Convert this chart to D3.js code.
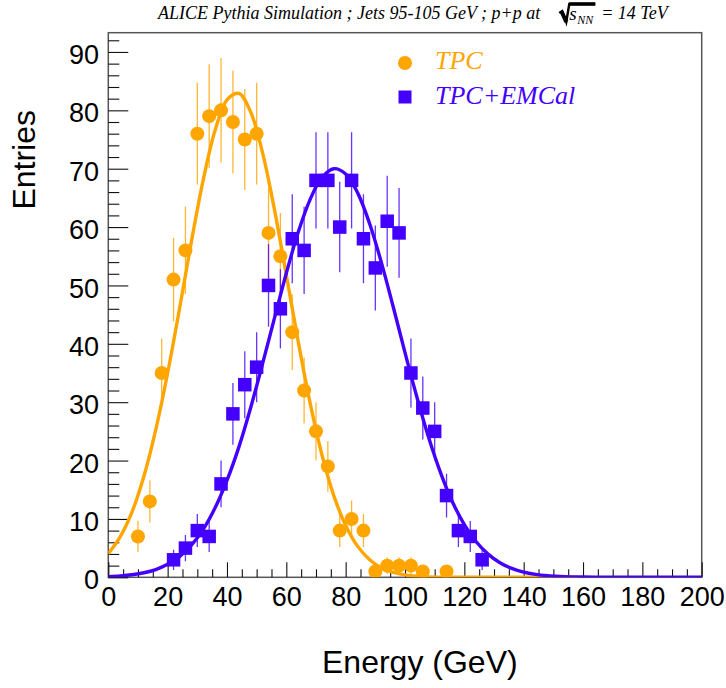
<!DOCTYPE html>
<html>
<head>
<meta charset="utf-8">
<script src="https://cdn.jsdelivr.net/npm/d3@7/dist/d3.min.js"></script>
<style>
  html, body { margin: 0; padding: 0; background: #fff; }
  svg { display: block; }
</style>
</head>
<body>
<svg id="chart" width="726" height="688"></svg>
<script>
// ---------------- data ----------------
const binCenters = [2, 6, 10, 14, 18, 22, 26, 30, 34, 38, 42, 46, 50, 54, 58, 62, 66, 70, 74, 78, 82, 86, 90, 94, 98, 102, 106, 110, 114, 118, 122, 126];
const tpcValues   = [0, 0, 7, 13, 35, 51, 56, 76, 79, 80, 78, 75, 76, 59, 55, 42, 32, 25, 19, 8, 10, 8, 1, 2, 2, 2, 1, 0, 1, 0, 0, 0];
const emcalValues = [0, 0, 0, 0, 0, 3, 5, 8, 7, 16, 28, 33, 36, 50, 46, 58, 56, 68, 68, 60, 68, 58, 53, 61, 59, 35, 29, 25, 14, 8, 7, 3];

const tpcFitX = [0, 4, 8, 12, 16, 20, 24, 28, 32, 36, 40, 44, 48, 52, 56, 60, 64, 68, 72, 76, 80, 84, 88, 92, 96, 100, 104, 108, 112, 116, 120, 124, 128, 132, 136, 140, 144, 148, 152, 156, 158];
const tpcFitY = [4.06, 6.93, 11.2, 17.3, 25.3, 35.0, 46.0, 57.5, 68.1, 76.6, 81.8, 82.9, 79.7, 72.7, 63.0, 51.8, 40.4, 29.9, 21.0, 14.0, 8.88, 5.34, 3.05, 1.65, 0.85, 0.41, 0.19, 0.08, 0.03, 0.01, 0, 0, 0, 0, 0, 0, 0, 0, 0, 0, 0];
const emcalFitX = [0, 4, 8, 12, 16, 20, 24, 28, 32, 36, 40, 44, 48, 52, 56, 60, 64, 68, 72, 76, 80, 84, 88, 92, 96, 100, 104, 108, 112, 116, 120, 124, 128, 132, 136, 140, 144, 148, 152, 156, 160, 164, 168, 172, 176, 180, 184, 188, 192, 196, 200];
const emcalFitY = [0.12, 0.24, 0.44, 0.78, 1.33, 2.22, 3.55, 5.50, 8.22, 11.9, 16.6, 22.3, 29.1, 36.6, 44.4, 52.1, 59.1, 64.7, 68.5, 70.0, 69.1, 65.9, 60.7, 54.0, 46.4, 38.5, 30.9, 23.9, 17.9, 12.9, 9.04, 6.09, 3.97, 2.50, 1.52, 0.89, 0.51, 0.28, 0.15, 0.07, 0.04, 0.02, 0.01, 0, 0, 0, 0, 0, 0, 0, 0];

const xMajorTicks = [0, 20, 40, 60, 80, 100, 120, 140, 160, 180, 200];
const xMinorTicks = [5,10,15,25,30,35,45,50,55,65,70,75,85,90,95,105,110,115,125,130,135,145,150,155,165,170,175,185,190,195];
const yMajorTicks = [0, 10, 20, 30, 40, 50, 60, 70, 80, 90];
const yMinorTicks = [2,4,6,8,12,14,16,18,22,24,26,28,32,34,36,38,42,44,46,48,52,54,56,58,62,64,66,68,72,74,76,78,82,84,86,88,92];

const seriesNames = ["TPC", "TPC+EMCal"];
const titleMain = "ALICE Pythia Simulation ; Jets 95-105 GeV ; p+p at";
const titleEnd = "= 14 TeV";
const xTitle = "Energy (GeV)";
const yTitle = "Entries";

// ---------------- layout ----------------
const ORANGE = "#ffa500";
const BLUE = "#4400ff";
const frameL = 108.3, frameR = 701.7, frameT = 32.7, frameB = 577.3;
const sansFont = "'Liberation Sans', Arial, Helvetica, sans-serif";
const serifFont = "'Liberation Serif', 'Times New Roman', Times, serif";

const svg = d3.select("#chart");
const x = d3.scaleLinear().domain([0, 200]).range([frameL, frameR]);
const y = d3.scaleLinear().domain([0, 93.3]).range([frameB, frameT]);

svg.append("defs").append("clipPath").attr("id", "plotclip")
  .append("rect").attr("x", frameL).attr("y", frameT).attr("width", frameR - frameL).attr("height", frameB - frameT);

// frame
svg.append("rect").attr("x", frameL).attr("y", frameT).attr("width", frameR - frameL).attr("height", frameB - frameT)
  .attr("fill", "none").attr("stroke", "#555").attr("stroke-width", 1.5);

// axes ticks (inward, ROOT style)
function styleAxis(g) {
  g.select(".domain").remove();
  g.selectAll(".tick line").attr("stroke", "#111").attr("stroke-width", 1.1);
}
svg.append("g").attr("transform", `translate(${frameL},0)`)
  .call(d3.axisRight(y).tickValues(yMajorTicks).tickSize(20).tickFormat(""))
  .call(styleAxis);
svg.append("g").attr("transform", `translate(${frameL},0)`)
  .call(d3.axisRight(y).tickValues(yMinorTicks).tickSize(11).tickFormat(""))
  .call(styleAxis);
svg.append("g").attr("transform", `translate(0,${frameB})`)
  .call(d3.axisTop(x).tickValues(xMajorTicks).tickSize(15).tickFormat(""))
  .call(styleAxis);
svg.append("g").attr("transform", `translate(0,${frameB})`)
  .call(d3.axisTop(x).tickValues(xMinorTicks).tickSize(8).tickFormat(""))
  .call(styleAxis);

// tick labels
const yLab = svg.append("g").attr("transform", `translate(${frameL},0)`)
  .call(d3.axisLeft(y).tickValues(yMajorTicks).tickSize(0).tickPadding(9.3).tickFormat(d3.format("d")));
yLab.select(".domain").remove();
yLab.selectAll("text").attr("font-family", sansFont).attr("font-size", 27).attr("fill", "#000").attr("dy", "0.43em");

const xLab = svg.append("g").attr("transform", `translate(0,${frameB})`)
  .call(d3.axisBottom(x).tickValues(xMajorTicks).tickSize(0).tickPadding(10).tickFormat(d3.format("d")));
xLab.select(".domain").remove();
xLab.selectAll("text").attr("font-family", sansFont).attr("font-size", 27).attr("fill", "#000");

// axis titles
svg.append("text").attr("x", 322).attr("y", 673).attr("font-family", sansFont).attr("font-size", 32)
  .attr("fill", "#000").text(xTitle);
svg.append("text").attr("transform", "translate(35,110) rotate(-90)").attr("text-anchor", "end")
  .attr("font-family", sansFont).attr("font-size", 32).attr("fill", "#000").text(yTitle);

// ---------------- plot ----------------
const plot = svg.append("g").attr("clip-path", "url(#plotclip)");

const line = d3.line().x(d => x(d[0])).y(d => y(d[1])).curve(d3.curveCatmullRom.alpha(0.5));

function drawSeries(values, color, shape) {
  const pts = binCenters.map((c, i) => ({ c, v: values[i] })).filter(d => d.v > 0);
  const g = plot.append("g");
  g.selectAll("line.err").data(pts).join("line").attr("class", "err")
    .attr("x1", d => x(d.c)).attr("x2", d => x(d.c))
    .attr("y1", d => y(d.v - Math.sqrt(d.v))).attr("y2", d => y(d.v + Math.sqrt(d.v)))
    .attr("stroke", color).attr("stroke-width", 1.3).attr("stroke-opacity", 0.8);
  if (shape === "circle") {
    g.selectAll("circle").data(pts).join("circle")
      .attr("cx", d => x(d.c)).attr("cy", d => y(d.v)).attr("r", 7).attr("fill", color);
  } else {
    const s = 13.5;
    g.selectAll("rect").data(pts).join("rect")
      .attr("x", d => x(d.c) - s / 2).attr("y", d => y(d.v) - s / 2)
      .attr("width", s).attr("height", s).attr("fill", color);
  }
}
function drawFit(xs, ys, color) {
  plot.append("path").datum(xs.map((d, i) => [d, ys[i]]))
    .attr("d", line).attr("fill", "none").attr("stroke", color).attr("stroke-width", 3.4)
    .attr("stroke-linejoin", "round");
}

drawFit(tpcFitX, tpcFitY, ORANGE);
drawSeries(tpcValues, ORANGE, "circle");
drawFit(emcalFitX, emcalFitY, BLUE);
drawSeries(emcalValues, BLUE, "square");

// ---------------- legend ----------------
const leg = svg.append("g");
leg.append("circle").attr("cx", 405).attr("cy", 63).attr("r", 7).attr("fill", ORANGE);
leg.append("text").attr("x", 435).attr("y", 69).attr("font-family", serifFont).attr("font-style", "italic")
  .attr("font-size", 26).attr("fill", ORANGE).text(seriesNames[0]);
leg.append("rect").attr("x", 405 - 6.5).attr("y", 97 - 6.5).attr("width", 13).attr("height", 13).attr("fill", BLUE);
leg.append("text").attr("x", 435).attr("y", 104).attr("font-family", serifFont).attr("font-style", "italic")
  .attr("font-size", 26).attr("fill", BLUE).text(seriesNames[1]);

// ---------------- title ----------------
const tg = svg.append("g").attr("font-family", serifFont).attr("font-style", "italic").attr("fill", "#000");
const t1 = tg.append("text").attr("x", 158).attr("y", 19).attr("font-size", 18).text(titleMain);
const e1 = 158 + t1.node().getComputedTextLength();
const rx = e1 + 19;
// radical sign
tg.append("path")
  .attr("d", `M${rx},13 L${rx + 3},11 L${rx + 7},22 L${rx + 10},4 L${rx + 36},4`)
  .attr("fill", "none").attr("stroke", "#000").attr("stroke-width", 2.4).attr("stroke-linejoin", "miter");
tg.append("path")
  .attr("d", `M${rx + 2.5},12 L${rx + 7},22`).attr("stroke", "#000").attr("stroke-width", 4);
tg.append("line").attr("x1", rx + 10).attr("x2", rx + 36).attr("y1", 4).attr("y2", 4)
  .attr("stroke", "#000").attr("stroke-width", 3.5);
const sT = tg.append("text").attr("x", rx + 10).attr("y", 20).attr("font-size", 19).text("s");
const sEnd = rx + 10 + sT.node().getComputedTextLength();
const nn = tg.append("text").attr("x", sEnd + 0.5).attr("y", 24).attr("font-size", 12).text("NN");
const nnEnd = sEnd + 0.5 + nn.node().getComputedTextLength();
tg.append("text").attr("x", nnEnd + 8).attr("y", 19).attr("font-size", 18).text(titleEnd);
</script>
</body>
</html>
